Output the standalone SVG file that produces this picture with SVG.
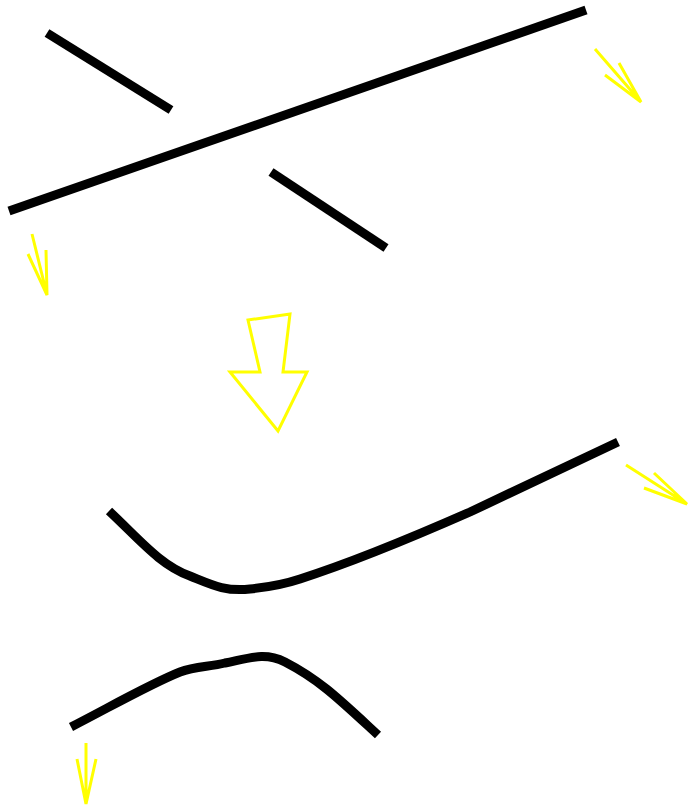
<svg xmlns="http://www.w3.org/2000/svg" width="692" height="809" viewBox="0 0 692 809">
<style>
.k{fill:none;stroke:#000;stroke-width:9}
.y{fill:none;stroke:#ffff00;stroke-width:3}
</style>
<rect width="692" height="809" fill="#fff"/>
<g id="top-lines">
<line class="k" x1="47" y1="33" x2="171" y2="110"/>
<line class="k" x1="9" y1="211" x2="586" y2="10"/>
<line class="k" x1="271" y1="172" x2="386" y2="248"/>
</g>
<g id="arrows">
<path class="y" d="M595,49 L641,102 M619,63 L641,102 L605,75"/>
<path class="y" d="M32,234 L47,295 M46,250 L47,295 L28,254"/>
<path class="y" d="M626,465 L687,504 M654,473 L687,504 L644,488"/>
<path class="y" d="M86,743 L86,804 M77,759 L86,804 L96,759"/>
<polygon class="y" points="248,320 290,314 283,372 307,372 278,431 230,372 260,372"/>
</g>
<g id="bottom-curves">
<path class="k" d="M109,511 C140,540 160,565 190,576 C210,584 225,592 250,589 C270,587 285,584 300,579 C350,563 420,534 470,512 L618,442"/>
<path class="k" d="M71,727 C110,707 150,684 180,672 C195,666 210,667 225,663 C250,658 265,652 285,662 C320,680 340,700 378,735"/>
</g>
</svg>
